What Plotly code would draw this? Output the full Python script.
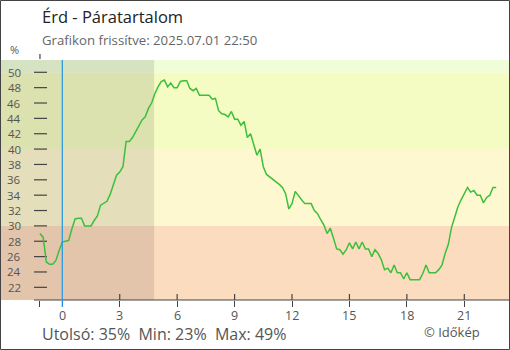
import plotly.graph_objects as go

# Relative humidity (%), one reading every 10 minutes, starting 22:50 the previous day
start_hour = -7 / 6
step_hour = 1 / 6
humidity = [
    29.0, 28.5, 25.3, 25.0, 25.0, 25.5, 26.8, 27.9, 28.0, 28.1,
    29.6, 30.9, 31.0, 31.0, 30.0, 30.0, 30.0, 30.7, 31.3, 32.7,
    33.0, 33.2, 34.1, 35.5, 36.6, 37.0, 37.7, 41.0, 41.0, 41.5,
    42.3, 43.0, 43.8, 44.2, 45.3, 46.0, 47.2, 48.1, 48.8, 49.0,
    48.1, 48.6, 48.0, 48.0, 48.8, 48.9, 48.9, 47.9, 47.6, 47.9,
    47.0, 47.0, 47.0, 47.0, 46.5, 46.6, 45.0, 44.6, 44.5, 44.2,
    44.9, 43.9, 43.9, 43.1, 43.6, 41.5, 42.0, 40.5, 39.2, 40.0,
    37.7, 36.7, 36.4, 36.0, 35.7, 35.4, 35.0, 34.2, 32.2, 32.9,
    34.5, 33.9, 33.4, 32.9, 32.9, 32.9, 32.0, 31.6, 30.8, 30.1,
    29.0, 29.7, 28.4, 27.0, 26.9, 26.3, 26.9, 27.8, 27.0, 27.9,
    27.0, 27.9, 27.0, 27.0, 26.0, 26.9, 26.4, 25.6, 24.3, 24.5,
    23.9, 24.9, 23.9, 23.9, 23.1, 23.9, 23.0, 23.0, 23.0, 23.0,
    23.8, 24.9, 23.9, 23.9, 23.9, 24.3, 24.9, 26.4, 27.6, 29.8,
    31.3, 32.5, 33.4, 34.3, 35.0, 34.4, 34.6, 34.0, 34.0, 33.0,
    33.7, 34.0, 35.0, 35.0,
]
hours = [start_hour + i * step_hour for i in range(len(humidity))]

x_tick_vals = [0, 3, 6, 9, 12, 15, 18, 21]
x_tick_text = ["0", "3", "6", "9", "12", "15", "18", "21"]
y_tick_vals = [22, 24, 26, 28, 30, 32, 34, 36, 38, 40, 42, 44, 46, 48, 50]

# Background bands: (lower, upper, colour)
band_low = [20.0, 30, 40, 50]
band_high = [30, 40, 50, 52.0]
band_color = ["#fcdcbf", "#fef8d0", "#f4fcc3", "#effdd8"]
night_end = 4.8

title = "Érd - Páratartalom"
subtitle = "Grafikon frissítve: 2025.07.01 22:50"
credit = "© Időkép"

W, H = 510, 350
ML, MR, MT, MB = 1, 1, 60, 50
X_RANGE = [-3.202, 23.335]
Y_RANGE = [20.35, 51.6]


def px_x(p):
    return (p - ML) / (W - ML - MR)


def px_y(p):
    return (H - MB - p) / (H - MT - MB)


axis_col = "#444444"
text_col = "#555555"
font_family = "Open Sans, Noto Sans, sans-serif"

fig = go.Figure()
fig.add_trace(go.Scatter(
    x=hours, y=humidity, mode="lines",
    line=dict(color="#3dbf3d", width=1.5), hoverinfo="skip",
))

shapes = []
for lo, hi, col in zip(band_low, band_high, band_color):
    shapes.append(dict(type="rect", xref="paper", yref="y", x0=0, x1=1,
                       y0=lo, y1=hi, fillcolor=col, line_width=0, layer="below"))
# night shading
shapes.append(dict(type="rect", xref="x", yref="paper", x0=X_RANGE[0], x1=night_end,
                   y0=0, y1=1, fillcolor="rgba(0,0,0,0.1)", line_width=0, layer="below"))
# y tick dashes inside the plot
for v in y_tick_vals:
    shapes.append(dict(type="line", xref="paper", yref="y", x0=px_x(34), x1=px_x(47),
                       y0=v, y1=v, line=dict(color=axis_col, width=1.2), layer="below"))
# x axis line
shapes.append(dict(type="line", xref="paper", yref="paper", x0=px_x(34), x1=1,
                   y0=0, y1=0, line=dict(color=axis_col, width=1.2)))
# inner parts of the hour ticks
for v in x_tick_vals[1:]:
    shapes.append(dict(type="line", xref="x", yref="paper", x0=v, x1=v,
                       y0=0, y1=px_y(294), line=dict(color=axis_col, width=1.2)))
# start-of-data mark above the plot
shapes.append(dict(type="line", xref="x", yref="paper", x0=start_hour, x1=start_hour,
                   y0=px_y(59), y1=px_y(54), line=dict(color=axis_col, width=1.2)))
# midnight line
shapes.append(dict(type="line", xref="x", yref="paper", x0=0, x1=0,
                   y0=px_y(307), y1=1, line=dict(color="#2196e8", width=1.2)))
# outer frame
shapes.append(dict(type="rect", xref="paper", yref="paper",
                   x0=px_x(0.5), x1=px_x(W - 0.5), y0=px_y(H - 0.5), y1=px_y(0.5),
                   line=dict(color="#444444", width=1), fillcolor="rgba(0,0,0,0)"))

annotations = []
for v in y_tick_vals:
    annotations.append(dict(xref="paper", yref="y", x=px_x(21.5), y=v, text=str(v),
                            showarrow=False, xanchor="right", yanchor="middle",
                            borderpad=0,
                            font=dict(family=font_family, size=11.5, color=text_col)))
for v, t in zip(x_tick_vals, x_tick_text):
    annotations.append(dict(xref="x", yref="paper", x=v, y=px_y(315), text=t,
                            showarrow=False, xanchor="center", yanchor="middle",
                            font=dict(family=font_family, size=12.5, color=text_col)))
annotations.append(dict(xref="paper", yref="paper", x=px_x(21), y=px_y(50), text="%",
                        showarrow=False, xanchor="right", yanchor="middle",
                        font=dict(family=font_family, size=11, color=text_col)))
annotations.append(dict(xref="paper", yref="paper", x=px_x(40), y=px_y(17), text=title,
                        showarrow=False, xanchor="left", yanchor="middle",
                        font=dict(family=font_family, size=16.5, color="#222222")))
annotations.append(dict(xref="paper", yref="paper", x=px_x(40), y=px_y(40), text=subtitle,
                        showarrow=False, xanchor="left", yanchor="middle",
                        font=dict(family=font_family, size=13.2, color="#666666")))
stats = "Utolsó: {}%  Min: {}%  Max: {}%".format(
    round(humidity[-1]), round(min(humidity)), round(max(humidity)))
annotations.append(dict(xref="paper", yref="paper", x=px_x(40), y=px_y(334), text=stats,
                        showarrow=False, xanchor="left", yanchor="middle",
                        font=dict(family=font_family, size=16, color=text_col)))
annotations.append(dict(xref="paper", yref="paper", x=px_x(482), y=px_y(332), text=credit,
                        showarrow=False, xanchor="right", yanchor="middle",
                        font=dict(family=font_family, size=13, color=text_col)))

fig.update_layout(
    width=W, height=H,
    margin=dict(l=ML, r=MR, t=MT, b=MB, pad=0),
    paper_bgcolor="white", plot_bgcolor="white",
    showlegend=False,
    shapes=shapes, annotations=annotations,
    xaxis=dict(range=X_RANGE, showgrid=False, zeroline=False, showline=False,
               tickvals=[start_hour] + x_tick_vals, showticklabels=False,
               ticks="outside", ticklen=6, tickwidth=1.2, tickcolor=axis_col,
               automargin=False, fixedrange=True),
    yaxis=dict(range=Y_RANGE, showgrid=False, zeroline=False, showline=False,
               showticklabels=False, ticks="", automargin=False, fixedrange=True),
)

fig.write_html("out.html", config={"displayModeBar": False})
